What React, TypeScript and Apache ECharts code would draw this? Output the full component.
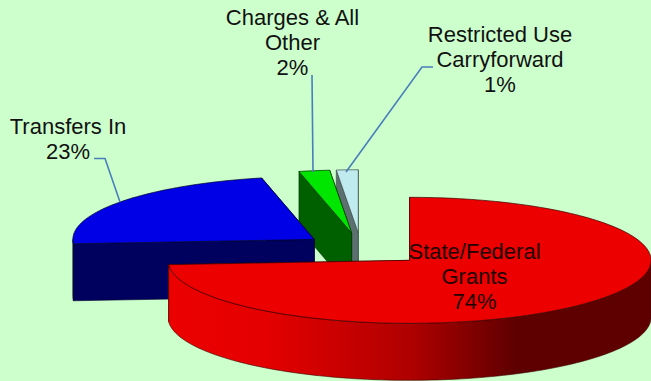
import React, { useEffect, useRef } from "react";
import * as echarts from "echarts";

const categories = ["State/Federal\nGrants", "Transfers In", "Charges & All\nOther", "Restricted Use\nCarryforward"];
const shares = [73.9, 22.6, 2.05, 1.45];
const explosions = [0.275, 0.241, 0.25, 0.25];
const topColors = ["#ec0000", "#0000e6", "#00e600", "#bfebef"];
const sideColors = ["#ec0000", "#00005e", "#006000", "#5c7070"];
const edgeColors = ["#3a0000", "#00002a", "#003000", "#3c4a4a"];

const CX = 361, CY = 248.5, RX = 241.5, RY = 63, DEPTH = 57;
const rad = (d: number) => (d * Math.PI) / 180;

function arcPts(ax: number, ay: number, from: number, to: number, dy = 0) {
  const n = Math.max(2, Math.ceil(Math.abs(to - from) / 1.5));
  const pts: number[][] = [];
  for (let i = 0; i <= n; i++) {
    const t = rad(from + ((to - from) * i) / n);
    pts.push([ax + RX * Math.sin(t), ay - RY * Math.cos(t) + dy]);
  }
  return pts;
}

function renderSlice(params: any, api: any) {
  const idx = shares.length - 1 - params.dataIndex;
  const total = shares.reduce((a, b) => a + b, 0);
  const start = (shares.slice(0, idx).reduce((a, b) => a + b, 0) / total) * 360;
  const end = start + (api.value(0) / total) * 360;
  const mid = rad((start + end) / 2);
  const e = explosions[idx];
  const ax = CX + e * RX * Math.sin(mid);
  const ay = CY - e * RY * Math.cos(mid);
  const edge = edgeColors[idx];
  const children: any[] = [];
  const wall = (angle: number) => {
    const t = rad(angle);
    const px = ax + RX * Math.sin(t);
    const py = ay - RY * Math.cos(t);
    return {
      type: "polygon",
      shape: { points: [[ax, ay], [px, py], [px, py + DEPTH], [ax, ay + DEPTH]] },
      style: { fill: sideColors[idx], stroke: edge, lineWidth: 0.6 },
    };
  };
  children.push(wall(end), wall(start));
  const rimFrom = Math.max(start, 90);
  const rimTo = Math.min(end, 270);
  if (rimTo > rimFrom) {
    const top = arcPts(ax, ay, rimFrom, rimTo);
    const bottom = arcPts(ax, ay, rimTo, rimFrom, DEPTH);
    const fill =
      idx === 0
        ? new echarts.graphic.LinearGradient(0, 0, 1, 0, [
            { offset: 0, color: "#ec0000" },
            { offset: 0.2, color: "#e40000" },
            { offset: 0.5, color: "#b00000" },
            { offset: 0.72, color: "#5e0000" },
            { offset: 1, color: "#5e0000" },
          ])
        : sideColors[idx];
    children.push({
      type: "polygon",
      shape: { points: [...top, ...bottom] },
      style: { fill, stroke: edge, lineWidth: 0.6 },
    });
  }
  children.push({
    type: "polygon",
    shape: { points: [[ax, ay], ...arcPts(ax, ay, start, end)] },
    style: { fill: topColors[idx], stroke: edge, lineWidth: 0.7 },
  });
  return { type: "group", children };
}

const LEADER = "#4a7ebb";
const label = (i: number) => `${categories[i]}\n${Math.round(shares[i])}%`;

export default function App() {
  const ref = useRef<HTMLDivElement>(null);
  useEffect(() => {
    const chart = echarts.init(ref.current!, null, { renderer: "svg" });
    const textStyle = (i: number, x: number, y: number) => ({
      type: "text",
      x,
      y,
      z: 10,
      style: {
        text: label(i),
        fill: i === 0 ? "#200000" : "#111",
        font: '22px "Liberation Sans", Arial, sans-serif',
        lineHeight: 25,
        align: "center",
        verticalAlign: "top",
      },
    });
    chart.setOption({
      animation: false,
      backgroundColor: "#ccffcc",
      graphic: [
        textStyle(0, 474.5, 239),
        textStyle(1, 68, 114),
        textStyle(2, 292.5, 5),
        textStyle(3, 500, 22),
        { type: "polyline", z: 5, shape: { points: [[94, 158.5], [105, 158.5], [120, 202]] }, style: { stroke: LEADER, lineWidth: 1.6, fill: "none" } },
        { type: "polyline", z: 5, shape: { points: [[312, 75], [313, 172]] }, style: { stroke: LEADER, lineWidth: 1.6, fill: "none" } },
        { type: "polyline", z: 5, shape: { points: [[433, 67], [422, 67], [346, 172]] }, style: { stroke: LEADER, lineWidth: 1.6, fill: "none" } },
      ],
      series: [
        {
          type: "custom",
          coordinateSystem: "none",
          renderItem: renderSlice,
          data: [...shares].reverse().map((v) => [v]),
          silent: true,
        },
      ],
    });
    return () => chart.dispose();
  }, []);
  return <div ref={ref} style={{ width: 651, height: 381, position: "fixed", left: 0, top: 0 }} />;
}
